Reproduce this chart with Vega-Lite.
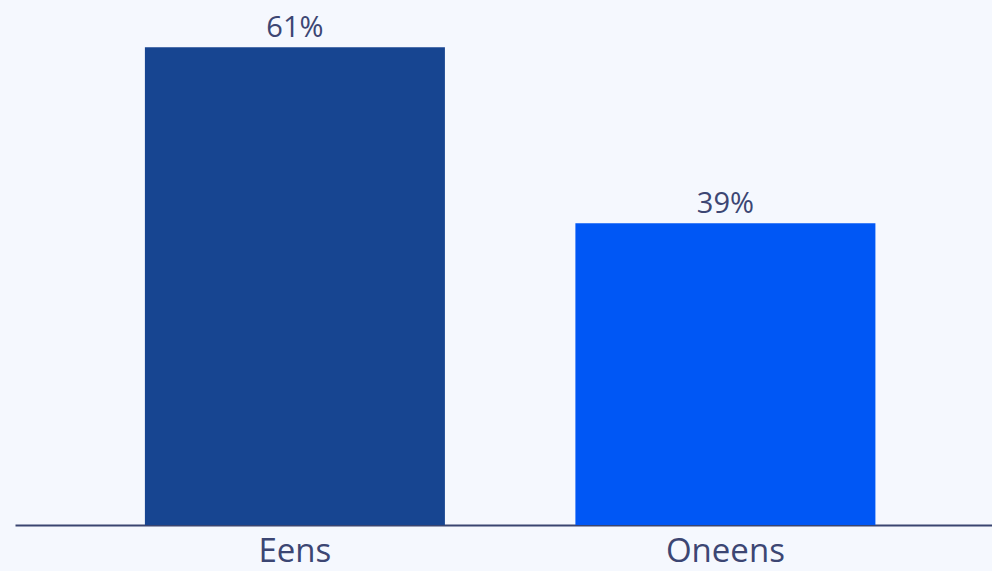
{
  "$schema": "https://vega.github.io/schema/vega-lite/v6.json",
  "autosize": {"type": "none"},
  "padding": {"left": 15, "top": 0, "right": 0, "bottom": 46},
  "width": 977,
  "height": 525,
  "background": "#f5f8fe",
  "config": {"view": {"stroke": null}, "font": "Open Sans"},
  "data": {"values": [
    {"answer": "Eens", "value": 61.3, "label": "61%"},
    {"answer": "Oneens", "value": 38.7, "label": "39%"}
  ]},
  "encoding": {
    "x": {"field": "answer", "type": "nominal", "sort": null,
      "scale": {"paddingInner": 0.3031, "paddingOuter": 0.2863, "align": 0.527},
      "axis": {"title": null, "labelAngle": 0, "ticks": false, "domainColor": "#3a4570", "domainWidth": 2,
        "labelFontSize": 33, "labelColor": "#3c4673", "labelPadding": 10, "labelFont": "Open Sans"}},
    "y": {"field": "value", "type": "quantitative", "scale": {"domain": [0, 67.35], "nice": false},
      "axis": null}
  },
  "layer": [
    {"mark": {"type": "bar"},
     "encoding": {"color": {"field": "answer", "type": "nominal", "legend": null,
       "scale": {"domain": ["Eens", "Oneens"], "range": ["#174591", "#0057f5"]}}}},
    {"mark": {"type": "text", "baseline": "alphabetic", "dy": -10, "fontSize": 29, "color": "#3c4673"},
     "encoding": {"text": {"field": "label"}}}
  ]
}
